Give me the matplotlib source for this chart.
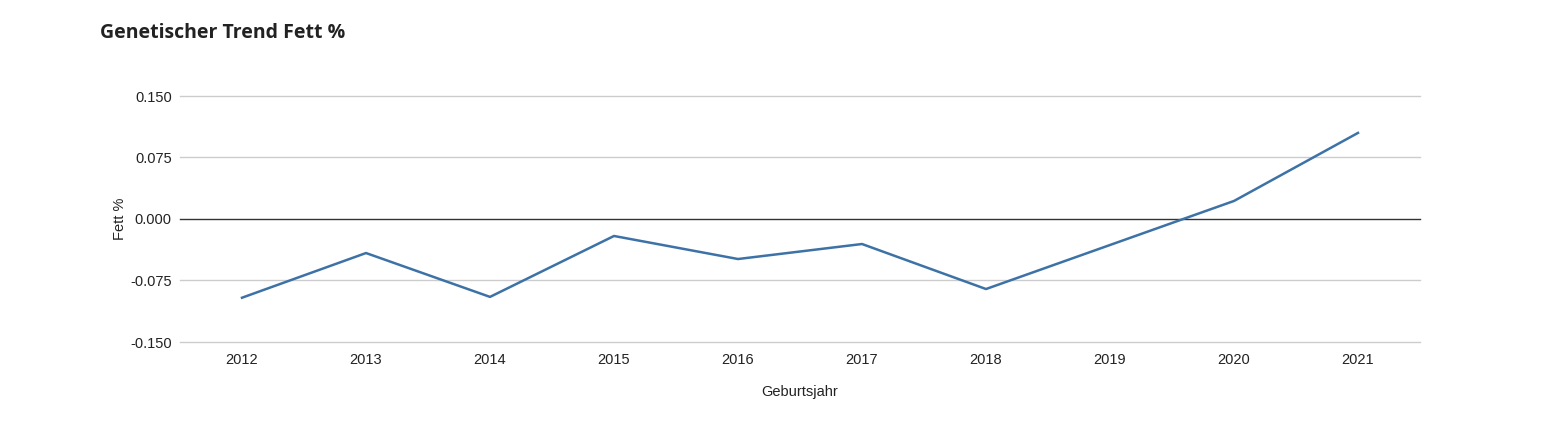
import matplotlib
matplotlib.use('Agg')
import matplotlib.pyplot as plt
import numpy as np

years = ['2012', '2013', '2014', '2015', '2016', '2017', '2018', '2019', '2020', '2021']
fett = [-0.096, -0.0415, -0.095, -0.0207, -0.0488, -0.0305, -0.0854, -0.0317, 0.022, 0.105]
y_ticks = [-0.150, -0.075, 0.000, 0.075, 0.150]

fig = plt.figure(figsize=(15.56, 4.36), dpi=100)
ax = fig.add_axes([180 / 1556, 1 - 342 / 436, 1240 / 1556, 246 / 436])

x = np.arange(len(years))
ax.plot(x, fett, color='#3d72a6', linewidth=1.8, zorder=3)

ax.set_xlim(-0.5, len(years) - 0.5)
ax.set_ylim(-0.150, 0.150)
ax.set_yticks(y_ticks)
ax.set_yticklabels(['%.3f' % v for v in y_ticks], fontsize=10.5, color='#222222', family='Liberation Sans')
ax.set_xticks(x)
ax.set_xticklabels(years, fontsize=10.5, color='#222222', family='Liberation Sans')
ax.tick_params(axis='y', length=0, pad=6)
ax.tick_params(axis='x', length=0, pad=8)

# gridlines drawn by hand so the edge ones are not clipped
for v in y_ticks:
    if v == 0:
        ax.axhline(v, color='#333333', linewidth=1, zorder=2, clip_on=False)
    else:
        ax.axhline(v, color='#cccccc', linewidth=1, zorder=1, clip_on=False)
for s in ax.spines.values():
    s.set_visible(False)

ax.set_xlabel('Geburtsjahr', fontsize=10.5, color='#222222', family='Liberation Sans', labelpad=13)
ax.set_ylabel('Fett %', fontsize=10.5, color='#222222', family='Liberation Sans', labelpad=2)

fig.text(100 / 1556, 1 - 33 / 436, 'Genetischer Trend Fett %', fontsize=14, fontweight='bold',
         family='Open Sans', color='#222222', va='center', ha='left')

fig.savefig('out.png', dpi=100)
